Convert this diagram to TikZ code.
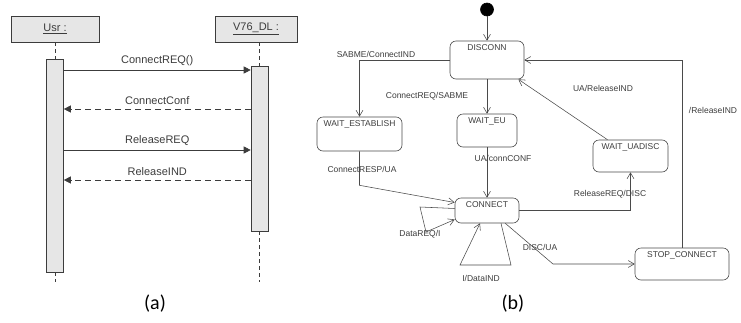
\documentclass[tikz,border=0pt]{standalone}
\usepackage{fontspec}
\setmainfont{Liberation Sans}
\newfontfamily\capfont{Carlito}
\usetikzlibrary{arrows.meta}
\definecolor{ink}{HTML}{3C3C3C}
\definecolor{edge}{HTML}{4A4A4A}
\definecolor{boxfill}{HTML}{E6E6E6}

\begin{document}
\begin{tikzpicture}[x=1pt, y=-1pt, ink, line width=0.6pt,
  obj/.style={draw, fill=boxfill, minimum width=#1, minimum height=26pt, inner sep=0pt, font=\fontsize{11}{13}\selectfont},
  act/.style={draw, fill=boxfill, minimum width=17pt, minimum height=#1, inner sep=0pt},
  life/.style={dash pattern=on 4pt off 3pt},
  call/.style={-{Triangle[length=7pt,width=7pt]}},
  reply/.style={call, dash pattern=on 6pt off 4pt},
  msg/.style={above=1pt, font=\fontsize{11}{13}\selectfont},
  state/.style 2 args={draw=edge, rounded corners=6pt, minimum width=#1, inner xsep=2pt, inner ysep=2pt, text height=7pt, text depth=#2, font=\fontsize{8.5}{10}\selectfont},
  trans/.style={draw=edge, line width=0.55pt, -{Straight Barb[length=6pt,width=7pt]}},
  lbl/.style={font=\fontsize{8.5}{10}\selectfont},
  figcap/.style={font=\capfont\fontsize{20}{24}\selectfont, text=black}]
\useasboundingbox (0,0) rectangle (741,322);

\node[obj=88pt] (usr) at (55,29) {\underline{Usr :}};
\node[obj=82pt] (dl) at (256,29) {\underline{V76\_DL :}};
\node[act=213pt] (usract) at (55,165.5) {};
\node[act=165pt] (dlact) at (259.5,148.5) {};
\coordinate (usrend) at (55,282);
\coordinate (dlend) at (259.5,282);
\draw[life] (usr) -- (usract);
\draw[life] (usract) -- (usrend);
\draw[life] (dl.south -| dlact.north) -- (dlact);
\draw[life] (dlact) -- (dlend);
\draw[call] (usract.east |- 0,70) -- (dlact.west |- 0,70) node[msg, midway] (m1) {ConnectREQ()};
\draw[reply] (dlact.west |- 0,109) -- (usract.east |- 0,109) node[msg, midway] (m2) {ConnectConf};
\draw[call] (usract.east |- 0,150) -- (dlact.west |- 0,150) node[msg, midway] (m3) {ReleaseREQ};
\draw[reply] (dlact.west |- 0,180) -- (usract.east |- 0,180) node[msg, midway] (m4) {ReleaseIND};
\node[figcap] (capa) at (155,304) {(a)};

\node[circle, fill=black, draw=black, minimum size=13pt, inner sep=0pt] (init) at (487,9.5) {};
\node[state={74pt}{27pt}] (disconn) at (487,60) {DISCONN};
\node[state={85pt}{23pt}] (waitest) at (359.5,134) {WAIT\_ESTABLISH};
\node[state={60pt}{22pt}] (waiteu) at (487,130.5) {WAIT\_EU};
\node[state={75pt}{21pt}] (waitua) at (630.5,156) {WAIT\_UADISC};
\node[state={64pt}{14pt}] (connect) at (487,210.5) {CONNECT};
\node[state={94pt}{21pt}] (stop) at (682,264) {STOP\_CONNECT};
\coordinate (kink) at (553,264);
\coordinate (dq1) at (420,207);
\coordinate (dq2) at (426,232);
\coordinate (di1) at (511,265);
\coordinate (di2) at (460,265);

\draw[trans] (init) -- (disconn);
\draw[trans] (disconn.west) -| (waitest.north);
\draw[trans] (disconn) -- (waiteu);
\draw[trans] ([xshift=-23pt]waitua.north) -- ([xshift=-6pt]disconn.south east);
\draw[trans] (stop.north) |- (disconn.east);
\draw[trans] (waitest.south) -- ++(0,34) -- ([yshift=8pt]connect.west);
\draw[trans] (waiteu) -- (connect);
\draw[trans] (connect.east) -| (waitua.south);
\draw[trans] (connect.-35) -- (kink) -- (stop.west);
\draw[trans] ([yshift=2pt]connect.west) -- (dq1) -- (dq2) -- ([yshift=-9pt]connect.west);
\draw[trans] ([xshift=14pt]connect.south) -- (di1) -- (di2) -- ([xshift=-7pt]connect.south);

\node[lbl] (t1) at (376,54) {SABME/ConnectIND};
\node[lbl] (t2) at (427,96) {ConnectREQ/SABME};
\node[lbl] (t3) at (603,88) {UA/ReleaseIND};
\node[lbl] (t4) at (713,110) {/ReleaseIND};
\node[lbl] (t5) at (362,169) {ConnectRESP/UA};
\node[lbl] (t6) at (503,158) {UA/connCONF};
\node[lbl] (t7) at (610,194) {ReleaseREQ/DISC};
\node[lbl] (t8) at (540,247) {DISC/UA};
\node[lbl] (t9) at (420,234) {DataREQ/I};
\node[lbl] (t10) at (481,278) {I/DataIND};
\node[figcap] (capb) at (513,304) {(b)};
\end{tikzpicture}
\end{document}
